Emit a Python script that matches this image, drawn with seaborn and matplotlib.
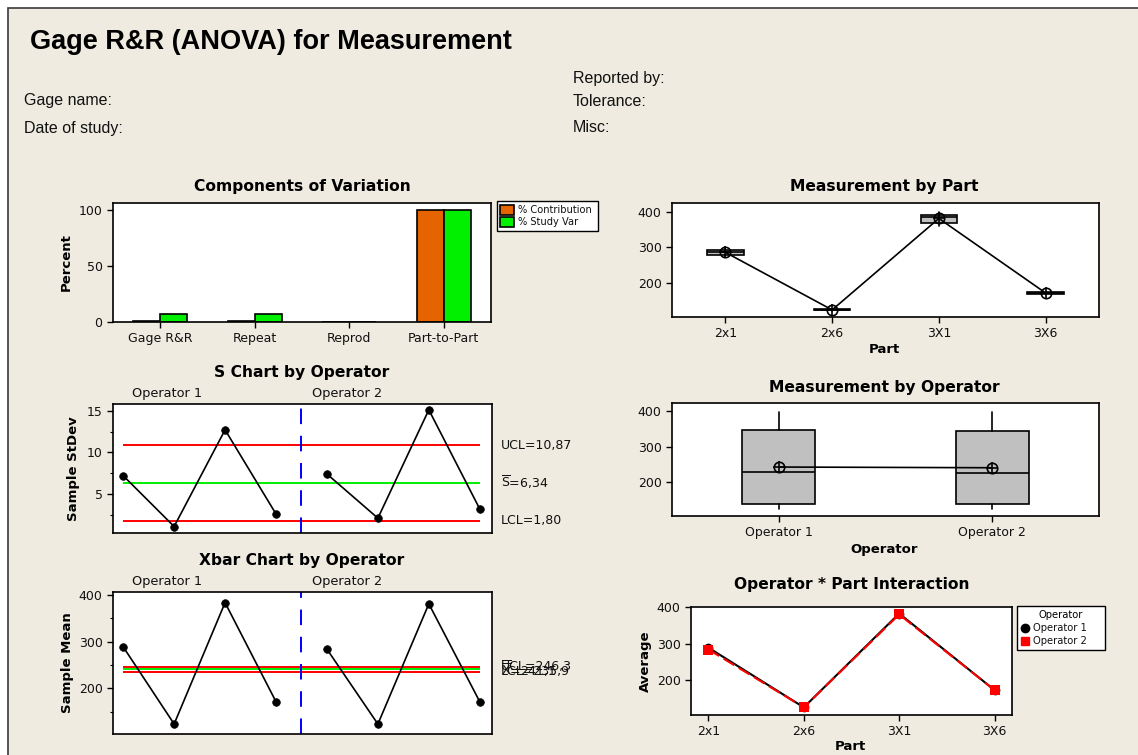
import numpy as np
import pandas as pd
import matplotlib
matplotlib.use("Agg")
import matplotlib.pyplot as plt
import matplotlib.transforms as mtransforms
from matplotlib.patches import Rectangle, Patch
from matplotlib.lines import Line2D
from matplotlib.ticker import MultipleLocator
import seaborn as sns

# ---------------------------------------------------------------- data
sources = ["Gage R&R", "Repeat", "Reprod", "Part-to-Part"]
pct_contribution = [0.5, 0.5, 0.0, 99.5]
pct_study_var = [7.0, 7.0, 0.0, 99.8]

parts = ["2x1", "2x6", "3X1", "3X6"]
operators = ["Operator 1", "Operator 2"]

# raw measurements, five replicates per part for each operator
op1_measurements = {
    "2x1": [279, 285, 289, 293, 297],
    "2x6": [123, 123, 124, 125, 125],
    "3X1": [364, 378, 386, 390, 397],
    "3X6": [168, 171, 171, 173, 175],
}
op2_measurements = {
    "2x1": [275, 279, 284, 289, 291],
    "2x6": [122, 122, 124, 126, 126],
    "3X1": [360, 372, 383, 386, 399],
    "3X6": [168, 169, 172, 174, 175],
}

# subgroup statistics (one subgroup per operator and part)
sample_no = [1, 2, 3, 4, 5, 6, 7, 8]
stdev_op1 = [7.2, 1.1, 12.7, 2.6]
stdev_op2 = [7.4, 2.1, 15.1, 3.2]
s_ucl, s_center, s_lcl = 10.87, 6.34, 1.80

xbar_op1 = [288.7, 124.1, 383.0, 171.6]
xbar_op2 = [283.7, 124.0, 380.4, 171.6]
x_ucl, x_center, x_lcl = 246.3, 241.1, 235.9

# ---------------------------------------------------------------- style
W, H = 1138, 755
BEIGE = "#EFEBE0"
ORANGE = "#E66400"
GREEN = "#00F000"
RED = "#FF0000"
BOX_GRAY = "#C0C0C0"
INK = "#111111"

sns.set_style("ticks")
plt.rcParams.update({
    "font.family": ["DejaVu Sans"],
    "mathtext.fontset": "dejavusans",
    "text.color": "black",
    "axes.labelcolor": "black",
    "axes.edgecolor": "black",
    "axes.linewidth": 1.2,
    "axes.facecolor": "white",
    "xtick.color": "black",
    "ytick.color": "black",
    "xtick.labelcolor": INK,
    "ytick.labelcolor": INK,
    "xtick.labelsize": 9,
    "ytick.labelsize": 9,
    "xtick.major.size": 4,
    "ytick.major.size": 4,
    "ytick.minor.size": 2.5,
    "xtick.major.width": 1,
    "ytick.major.width": 1,
    "ytick.minor.width": 0.8,
    "xtick.direction": "out",
    "ytick.direction": "out",
    "legend.labelcolor": INK,
})

fig = plt.figure(figsize=(W / 100, H / 100), dpi=100, facecolor="white")


def fx(x):
    return x / W


def fy(y):
    return 1 - y / H


def add_axes(left, top, right, bottom):
    return fig.add_axes([left / W, 1 - bottom / H, (right - left) / W, (bottom - top) / H])


def box_stats(values):
    """Quartiles with the (n+1)p rule and 1.5*IQR whiskers."""
    v = np.asarray(values, dtype=float)
    q1, med, q3 = np.percentile(v, [25, 50, 75], method="weibull")
    iqr = q3 - q1
    lo = v[v >= q1 - 1.5 * iqr].min()
    hi = v[v <= q3 + 1.5 * iqr].max()
    return dict(q1=q1, med=med, q3=q3, whislo=lo, whishi=hi, fliers=[], mean=v.mean())


def title(x, y, text):
    fig.text(fx(x), fy(y), text, ha="center", va="center",
             fontsize=11.2, fontweight="bold", color="black")


def ylab(x, y, text):
    fig.text(fx(x), fy(y), text, ha="center", va="center", rotation=90,
             fontsize=9.5, fontweight="bold", color="black")


def xlab(x, y, text):
    fig.text(fx(x), fy(y), text, ha="center", va="center",
             fontsize=9.5, fontweight="bold", color="black")


# background panel with its frame
fig.add_artist(Rectangle((fx(8), -0.05), 1.2, (H - 8) / H + 0.05,
                         transform=fig.transFigure, facecolor=BEIGE,
                         edgecolor="#3a3a3a", linewidth=1.2, zorder=-10))

# ---------------------------------------------------------------- header
fig.text(fx(30), fy(42), "Gage R&R (ANOVA) for Measurement", ha="left", va="center",
         family=["Liberation Sans", "DejaVu Sans"], fontsize=19.5, fontweight="bold",
         color="black")
hdr = dict(ha="left", va="center", family=["Liberation Sans", "DejaVu Sans"],
           fontsize=11.5, color=INK)
fig.text(fx(24), fy(101), "Gage name:", **hdr)
fig.text(fx(24), fy(128), "Date of study:", **hdr)
fig.text(fx(573), fy(79), "Reported by:", **hdr)
fig.text(fx(573), fy(102), "Tolerance:", **hdr)
fig.text(fx(573), fy(128), "Misc:", **hdr)

# ---------------------------------------------------------------- components of variation
ax = add_axes(113, 203, 491, 322)
cv = pd.DataFrame({
    "Source": sources * 2,
    "Measure": ["% Contribution"] * len(sources) + ["% Study Var"] * len(sources),
    "Percent": pct_contribution + pct_study_var,
})
sns.barplot(data=cv, x="Source", y="Percent", hue="Measure", order=sources,
            palette=[ORANGE, GREEN], width=0.57, gap=0, saturation=1,
            errorbar=None, edgecolor="black", linewidth=1.2, legend=False, ax=ax)
ax.set_xlim(-0.5, 3.5)
ax.set_ylim(0, 105.9)
ax.set_yticks([0, 50, 100])
ax.set_xlabel("")
ax.set_ylabel("")
title(302, 187, "Components of Variation")
ylab(66, 262, "Percent")
fig.legend(handles=[Patch(facecolor=ORANGE, edgecolor="black", linewidth=1.2, label="% Contribution"),
                    Patch(facecolor=GREEN, edgecolor="black", linewidth=1.2, label="% Study Var")],
           loc="upper left", bbox_to_anchor=(fx(497), fy(202), fx(598) - fx(497), 0.001),
           bbox_transform=fig.transFigure, mode="expand", fontsize=7.1, frameon=True,
           fancybox=False, edgecolor="black", framealpha=1, borderpad=0.35,
           handlelength=1.4, handleheight=1.2, handletextpad=0.4, labelspacing=0.2,
           borderaxespad=0)


# ---------------------------------------------------------------- control charts
def control_chart(top, bottom, values_1, values_2, ucl, center, lcl, labels, ylim, ticks, minor,
                  title_y, op_y, heading, ylabel, ylabel_x):
    ax = add_axes(113, top, 492, bottom)
    df = pd.DataFrame({"Sample": sample_no, "Value": values_1 + values_2,
                       "Operator": [operators[0]] * 4 + [operators[1]] * 4})
    ax.hlines([ucl, lcl], sample_no[0], sample_no[-1], colors=RED, linewidth=1.4, zorder=2)
    ax.hlines(center, sample_no[0], sample_no[-1], colors=GREEN, linewidth=1.4, zorder=2)
    ax.axvline(4.5, color="#0000FF", linewidth=1.4, linestyle=(0, (8, 6)), zorder=2)
    sns.lineplot(data=df, x="Sample", y="Value", units="Operator", estimator=None,
                 color="black", linewidth=1.2, marker="o", markersize=5.5,
                 markeredgecolor="black", markeredgewidth=0.5, zorder=3, ax=ax)
    ax.set_xlim(0.8, 8.24)
    ax.set_ylim(*ylim)
    ax.set_yticks(ticks)
    ax.yaxis.set_minor_locator(MultipleLocator(minor))
    ax.set_xticks([])
    ax.set_xlabel("")
    ax.set_ylabel("")
    tr = mtransforms.blended_transform_factory(ax.transAxes, ax.transData)
    for val, lab in zip([ucl, center, lcl], labels):
        ax.text(1 + 8.7 / 379, val, lab, transform=tr, ha="left", va="center",
                fontsize=9, color=INK, clip_on=False)
    tr2 = mtransforms.blended_transform_factory(ax.transData, fig.transFigure)
    ax.text(1.87, fy(op_y), operators[0], transform=tr2, ha="center", va="center",
            fontsize=9.3, color=INK)
    ax.text(5.40, fy(op_y), operators[1], transform=tr2, ha="center", va="center",
            fontsize=9.3, color=INK)
    title(302, title_y, heading)
    ylab(ylabel_x, (top + bottom) / 2, ylabel)
    return ax


control_chart(404, 533, stdev_op1, stdev_op2, s_ucl, s_center, s_lcl,
              ["UCL=10,87", r"$\overline{\mathrm{S}}$=6,34", "LCL=1,80"],
              (0.32, 15.8), [5, 10, 15], 2.5, 373, 393,
              "S Chart by Operator", "Sample StDev", 74)

control_chart(592, 734, xbar_op1, xbar_op2, x_ucl, x_center, x_lcl,
              ["UCL=246,3", r"$\overline{\overline{\mathrm{X}}}$=241,1", "LCL=235,9"],
              (102.8, 405.7), [200, 300, 400], 50, 560, 582,
              "Xbar Chart by Operator", "Sample Mean", 68)


# ---------------------------------------------------------------- box plots with mean connect line
def mean_line(ax, xs, means):
    sns.lineplot(x=xs, y=means, color="black", linewidth=1.2, marker="o", markersize=7.5,
                 markerfacecolor="none", markeredgecolor="black", markeredgewidth=1.2,
                 zorder=4, ax=ax)
    sns.scatterplot(x=xs, y=means, marker="+", s=65, color="black", linewidth=1.2,
                    zorder=5, ax=ax)


box_kw = dict(widths=0.34, patch_artist=True, showfliers=False, showcaps=False,
              manage_ticks=False,
              boxprops=dict(facecolor=BOX_GRAY, edgecolor="black", linewidth=1.2),
              medianprops=dict(color="black", linewidth=1.2),
              whiskerprops=dict(color="black", linewidth=1.2))

# measurement by part
ax = add_axes(672, 203, 1099, 317)
part_values = [op1_measurements[p] + op2_measurements[p] for p in parts]
part_stats = [box_stats(v) for v in part_values]
ax.bxp(part_stats, positions=range(len(parts)), **box_kw)
mean_line(ax, list(range(len(parts))), [s["mean"] for s in part_stats])
ax.set_xticks(range(len(parts)), parts)
ax.set_xlim(-0.5, 3.5)
ax.set_ylim(104, 425)
ax.set_yticks([200, 300, 400])
title(884, 187, "Measurement by Part")
xlab(884, 350, "Part")

# measurement by operator
ax = add_axes(672, 403, 1099, 516)
op_values = [sum((op1_measurements[p] for p in parts), []),
             sum((op2_measurements[p] for p in parts), [])]
op_stats = [box_stats(v) for v in op_values]
ax.bxp(op_stats, positions=range(len(operators)), **box_kw)
mean_line(ax, list(range(len(operators))), [s["mean"] for s in op_stats])
ax.set_xticks(range(len(operators)), operators)
ax.set_xlim(-0.5, 1.5)
ax.set_ylim(102.8, 423.6)
ax.set_yticks([200, 300, 400])
title(884, 387, "Measurement by Operator")
xlab(884, 549, "Operator")

# operator * part interaction
ax = add_axes(691, 607, 1012, 715)
inter = pd.DataFrame({"Part": list(range(len(parts))) * 2,
                      "Average": xbar_op1 + xbar_op2,
                      "Operator": [operators[0]] * 4 + [operators[1]] * 4})
sns.lineplot(data=inter, x="Part", y="Average", hue="Operator", style="Operator",
             palette={operators[0]: "black", operators[1]: RED},
             markers={operators[0]: "o", operators[1]: "s"},
             dashes={operators[0]: "", operators[1]: (6, 2.5)},
             markersize=7, markeredgewidth=0, linewidth=1.5, legend=False, ax=ax)
ax.set_xticks(range(len(parts)), parts)
ax.set_xlim(-0.183, 3.183)
ax.set_ylim(103, 401)
ax.set_yticks([200, 300, 400])
ax.set_xlabel("")
ax.set_ylabel("")
title(852, 585, "Operator * Part Interaction")
xlab(850, 746, "Part")
ylab(645, 661, "Average")
fig.legend(handles=[Line2D([], [], color="black", marker="o", linestyle="none", markersize=6,
                           label=operators[0]),
                    Line2D([], [], color=RED, marker="s", linestyle="none", markersize=6,
                           label=operators[1])],
           title="Operator", loc="upper left",
           bbox_to_anchor=(fx(1017), fy(607), fx(1105) - fx(1017), 0.001),
           bbox_transform=fig.transFigure, mode="expand", fontsize=7.2,
           title_fontsize=7.2, frameon=True, fancybox=False, edgecolor="black",
           framealpha=1, borderpad=0.4, handlelength=0.8, handletextpad=0.4,
           labelspacing=0.3, borderaxespad=0)

fig.savefig("out.png", dpi=100, facecolor=fig.get_facecolor())
